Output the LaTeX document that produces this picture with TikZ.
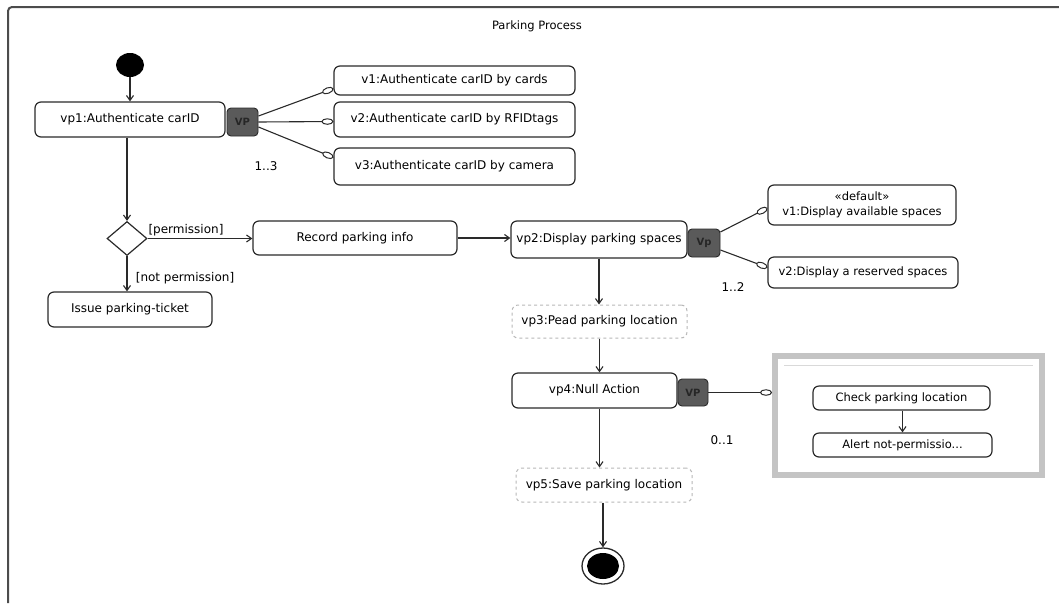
\documentclass[tikz,border=0pt]{standalone}
\usepackage{fontspec}
\setmainfont{DejaVu Sans}
\usetikzlibrary{arrows.meta,shapes.geometric,shapes.misc,calc}
\definecolor{ln}{HTML}{2A2A2A}
\definecolor{vpfill}{HTML}{5A5A5A}
\definecolor{dashgray}{HTML}{B8B8B8}
\definecolor{grpgray}{HTML}{C4C4C4}
\begin{document}
\begin{tikzpicture}[x=1pt,y=-1pt,
  every node/.style={font=\fontsize{12}{14}\selectfont, text=black},
  act/.style={draw=ln, line width=1.2pt, rounded corners=6pt, fill=white, inner sep=0pt, align=center},
  optact/.style={draw=dashgray, dashed, line width=1pt, rounded corners=6pt, fill=white, inner sep=0pt, align=center},
  vpbox/.style={draw=ln, line width=0.9pt, fill=vpfill, rounded corners=4pt, inner sep=0pt, text=black!85, font=\fontsize{10}{12}\selectfont\bfseries},
  flow/.style={draw=ln, line width=1.1pt, -{Straight Barb[length=5pt,width=7pt]}},
  var/.style={draw=ln, line width=1.1pt, -{Ellipse[open,length=12pt,width=6.5pt,line width=1pt]}},
  lbl/.style={font=\fontsize{12}{14}\selectfont}
]
\useasboundingbox (0,0) rectangle (1059,603);
% frame
\draw[line width=2pt, color=black!70, rounded corners=4pt] (8,603) -- (8,7) -- (1059,7);
\node[lbl, font=\fontsize{11.5}{13}\selectfont] (title) at (537,26) {Parking Process};

% initial
\node[fill=black, ellipse, minimum width=28pt, minimum height=24pt, inner sep=0pt] (init) at (130,65) {};

% top row
\node[act, minimum width=190pt, minimum height=35pt] (vp1) at (130,119.5) {vp1:Authenticate carID};
\node[vpbox, minimum width=31pt, minimum height=28pt] (VP1) at (242.5,122) {VP};
\node[act, minimum width=241pt, minimum height=29pt] (v1a) at (454.5,80.5) {v1:Authenticate carID by cards};
\node[act, minimum width=241pt, minimum height=35pt] (v2a) at (454.5,119.5) {v2:Authenticate carID by RFIDtags};
\node[act, minimum width=241pt, minimum height=37pt] (v3a) at (454.5,166.5) {v3:Authenticate carID by camera};
\node[lbl] (m13) at (266,166) {1..3};

% decision row
\node[draw=ln, line width=1.2pt, diamond, minimum width=40pt, minimum height=34pt, inner sep=0pt, fill=white] (dec) at (127,238.5) {};
\node[act, minimum width=204pt, minimum height=34pt] (rec) at (355,238) {Record parking info};
\node[act, minimum width=164pt, minimum height=35pt] (iss) at (130,309.5) {Issue parking-ticket};
\node[lbl] (lperm) at (186,230) {[permission]};
\node[lbl] (lnperm) at (185,278) {[not permission]};

% vp2 row
\node[act, minimum width=176pt, minimum height=37pt] (vp2) at (599,239.5) {vp2:Display parking spaces};
\node[vpbox, minimum width=32pt, minimum height=28pt] (VP2) at (704,243) {Vp};
\node[act, minimum width=188pt, minimum height=40pt, font=\fontsize{11.5}{15}\selectfont] (d1) at (862,205) {<<default>>\\v1:Display available spaces};
\node[act, minimum width=190pt, minimum height=31pt, font=\fontsize{11.5}{13}\selectfont] (d2) at (863,272.5) {v2:Display a reserved spaces};
\node[lbl] (m12) at (733,287) {1..2};

% vp3, vp4, vp5
\node[optact, minimum width=175pt, minimum height=33pt] (vp3) at (599.5,321.5) {vp3:Pead parking location};
\node[act, minimum width=165pt, minimum height=35pt] (vp4) at (594.5,390.5) {vp4:Null Action};
\node[vpbox, minimum width=30pt, minimum height=27pt] (VP4) at (693,392.5) {VP};
\node[optact, minimum width=176pt, minimum height=34pt] (vp5) at (604,485) {vp5:Save parking location};
\node[lbl] (m01) at (722,440) {0..1};

% group
\node[draw=grpgray, line width=6pt, minimum width=267pt, minimum height=119pt, inner sep=0pt] (grp) at (908.5,415.5) {};
\coordinate (gl1) at (784,365);
\coordinate (gl2) at (1033,365);
\draw[color=black!15, line width=0.8pt] (gl1) -- (gl2);
\node[act, minimum width=177pt, minimum height=24pt, font=\fontsize{11.5}{13}\selectfont] (chk) at (901.5,398) {Check parking location};
\node[act, minimum width=179pt, minimum height=24pt, font=\fontsize{11.5}{13}\selectfont] (alr) at (902.5,445) {Alert not-permissio...};

% final
\node[draw=ln, line width=1.3pt, ellipse, minimum width=42pt, minimum height=36pt, inner sep=0pt, fill=white] (final) at (603,566) {};
\node[fill=black, ellipse, minimum width=32pt, minimum height=26pt, inner sep=0pt] (finalin) at (final) {};

% flows
\draw[flow] (init) -- (vp1);
\draw[flow] (vp1.south -| dec.north) -- (dec.north);
\draw[flow] (dec.east) -- (dec.east -| rec.west);
\draw[flow] (dec.south) -- (dec.south |- iss.north);
\draw[flow] (rec.east) -- (rec.east -| vp2.west);
\draw[flow] (vp2.south) -- (vp2.south |- vp3.north);
\draw[flow] (vp3.south) -- (vp3.south |- vp4.north);
\draw[flow] (vp4.south -| vp3.south) -- (vp3.south |- vp5.north);
\draw[flow] (vp5.south -| final.north) -- (final.north);
\draw[flow] (chk.south -| alr.north) -- (alr.north);

% variants
\draw[var] ($(VP1.east)+(0,-6)$) -- ($(v1a.west)+(0,8)$);
\draw[var] ($(VP1.east)+(0,0)$) -- ($(v2a.west)+(0,2)$);
\draw[var] ($(VP1.east)+(0,5)$) -- ($(v3a.west)+(0,-9)$);
\draw[var] ($(VP2.east)+(0,-11)$) -- ($(d1.west)+(0,3)$);
\draw[var] ($(VP2.east)+(0,7)$) -- ($(d2.west)+(0,-5)$);
\draw[var] (VP4.east) -- (VP4.east -| grp.west);
\end{tikzpicture}
\end{document}
